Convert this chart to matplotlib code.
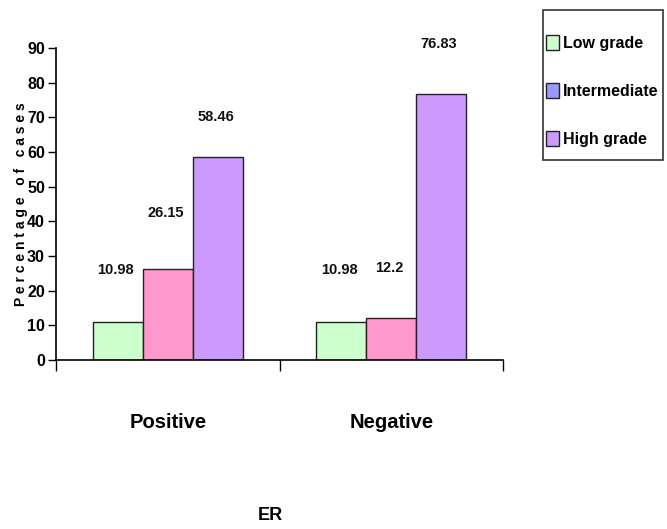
import matplotlib
matplotlib.use("Agg")
import matplotlib.pyplot as plt
from matplotlib.patches import Patch, Rectangle
import numpy as np

categories = ["Positive", "Negative"]
series_names = ["Low grade", "Intermediate", "High grade"]
low_grade = [10.98, 10.98]
intermediate = [26.15, 12.2]
high_grade = [58.46, 76.83]
value_labels = [["10.98", "10.98"], ["26.15", "12.2"], ["58.46", "76.83"]]
# label anchor heights (data units) above each bar
label_heights = [[26.0, 26.0], [42.5, 26.5], [70.0, 91.2]]
yticks = [0, 10, 20, 30, 40, 50, 60, 70, 80, 90]

bar_colors = ["#CCFFCC", "#FF99CC", "#CC99FF"]
legend_colors = ["#CCFFCC", "#9999FF", "#CC99FF"]

plt.rcParams["font.family"] = ["Liberation Sans", "DejaVu Sans"]
plt.rcParams["font.weight"] = "bold"

fig = plt.figure(figsize=(6.67, 5.29), dpi=100)
ax = fig.add_axes([56 / 667, 1 - 360 / 529, (503 - 56) / 667, (360 - 48) / 529])

x = np.arange(len(categories))
width = 0.224
series = [low_grade, intermediate, high_grade]
for i, vals in enumerate(series):
    pos = x + (i - 1) * width
    ax.bar(pos, vals, width=width, color=bar_colors[i], edgecolor="#222222",
           linewidth=1.0, zorder=2)
    for j, p in enumerate(pos):
        ax.text(p - 0.01, label_heights[i][j], value_labels[i][j], ha="center",
                va="center", fontsize=10.5, fontweight="bold", color="#111111")

ax.set_xlim(-0.5, 1.5)
ax.set_ylim(0, 90)
ax.set_yticks(yticks)
ax.set_yticklabels([str(t) for t in yticks], fontsize=11.5, fontweight="bold")
ax.set_xticks([-0.5, 0.5, 1.5])
ax.set_xticklabels([])
ax.tick_params(axis="x", direction="out", length=8, width=1, color="black")
ax.tick_params(axis="y", direction="out", length=6, width=1, color="black", pad=2)
for xi, name in zip(x, categories):
    ax.text(xi, -18, name, ha="center", va="center", fontsize=14.5, fontweight="bold",
            transform=ax.transData, clip_on=False)
ax.spines["top"].set_visible(False)
ax.spines["right"].set_visible(False)
ax.spines["left"].set_linewidth(1.2)
ax.spines["bottom"].set_linewidth(1.2)

ylabel = "   ".join(" ".join(word) for word in "Percentage of cases".split())
fig.text(21 / 667, 1 - 204 / 529, ylabel, rotation=90,
         ha="center", va="center", fontsize=10, fontweight="bold")
fig.text(270 / 667, 1 - 515 / 529, "ER", ha="center", va="center", fontsize=13,
         fontweight="bold")

# legend frame drawn separately so its box can be sized freely
fig.patches.append(Rectangle((543 / 667, 1 - 160 / 529), 120 / 667, 150 / 529,
                             transform=fig.transFigure, facecolor="white",
                             edgecolor="#333333", linewidth=1.2, zorder=0))
handles = [Patch(facecolor=c, edgecolor="#222222", linewidth=1.0) for c in legend_colors]
leg = fig.legend(handles, series_names, loc="center left",
                 bbox_to_anchor=(546 / 667, 1 - 91 / 529), frameon=False,
                 fontsize=11.5, handlelength=0.8, handleheight=1.1, handletextpad=0.25,
                 labelspacing=2.0, borderpad=0, borderaxespad=0)
for t in leg.get_texts():
    t.set_fontweight("bold")

fig.savefig("out.png", dpi=100)
